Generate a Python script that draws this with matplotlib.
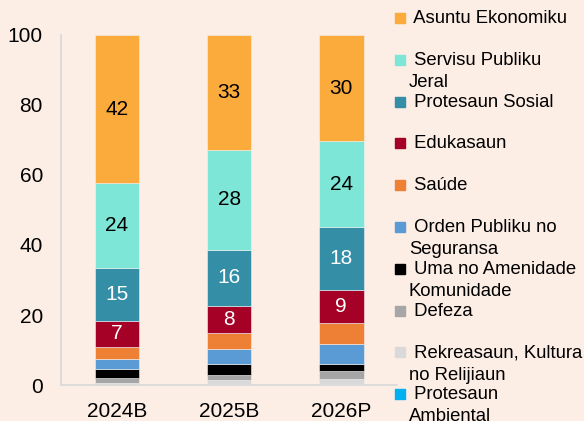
import numpy as np
import matplotlib.pyplot as plt
from matplotlib.patches import Rectangle

plt.rcParams['font.family'] = ['Liberation Sans', 'DejaVu Sans']

# Despeza tuir funsaun (% husi total)
anos = ["2024B", "2025B", "2026P"]
kategoria = ["Asuntu Ekonomiku", "Servisu Publiku\nJeral", "Protesaun Sosial",
             "Edukasaun", "Saúde", "Orden Publiku no\nSeguransa",
             "Uma no Amenidade\nKomunidade", "Defeza",
             "Rekreasaun, Kultura\nno Relijiaun", "Protesaun\nAmbiental"]
asuntu_ekonomiku = [42.3, 32.9, 30.4]
servisu_publiku = [24.4, 28.4, 24.4]
protesaun_sosial = [15.0, 16.2, 18.1]
edukasaun = [7.4, 7.7, 9.4]
saude = [3.6, 4.6, 6.1]
orden_publiku = [2.7, 4.3, 5.5]
uma_amenidade = [2.5, 3.1, 2.1]
defeza = [1.5, 1.4, 2.3]
rekreasaun = [0.5, 1.2, 1.3]
ambiental = [0.1, 0.2, 0.4]

series = [asuntu_ekonomiku, servisu_publiku, protesaun_sosial, edukasaun, saude,
          orden_publiku, uma_amenidade, defeza, rekreasaun, ambiental]
kores = ["#FBAA3C", "#7DE6D6", "#338EA6", "#A50026", "#EE8036",
         "#5B9BD5", "#000000", "#A6A6A6", "#D9D9D9", "#00B0F0"]
kor_label = ["black", "black", "white", "white", None, None, None, None, None, None]

bg = "#FCEDE5"
fig = plt.figure(figsize=(5.84, 4.21), dpi=100, facecolor=bg)
ax = fig.add_axes([0.1045, 0.0855, 0.5755, 0.8314], facecolor=bg)

x = np.arange(len(anos))
bottom = np.zeros(len(anos))
# stack from the bottom category upwards
for i in reversed(range(len(series))):
    vals = np.array(series[i])
    ax.bar(x, vals, 0.4, bottom=bottom, color=kores[i], edgecolor="#F2F2F2", linewidth=0.4)
    if kor_label[i]:
        for xi, v, b in zip(x, vals, bottom):
            ax.text(xi, b + v / 2, f"{v:.0f}", ha="center", va="center",
                    fontsize=15, color=kor_label[i])
    bottom += vals

ax.set_xlim(-0.5, 2.5)
ax.set_ylim(0, 100)
ax.set_yticks(range(0, 101, 20))
ax.set_xticks(x)
ax.set_xticklabels(anos)
ax.tick_params(axis="both", length=0, labelsize=15)
ax.tick_params(axis="y", pad=13)
ax.tick_params(axis="x", pad=12)
for s in ["top", "right"]:
    ax.spines[s].set_visible(False)
for s in ["left", "bottom"]:
    ax.spines[s].set_color("#D9D9D9")
    ax.spines[s].set_linewidth(1.2)

# legend drawn by hand, one entry every 41.8 px
W, H = 584, 421
for i, (nm, kor) in enumerate(zip(kategoria, kores)):
    yc = 18 + i * 41.8
    fig.patches.append(Rectangle((395 / W, 1 - (yc + 5) / H), 10 / W, 10 / H,
                                 transform=fig.transFigure, color=kor, figure=fig))
    fig.text(409 / W, 1 - (yc - 8) / H, " " + nm, ha="left", va="top",
             fontsize=13.3, linespacing=1.4)

fig.savefig("out.png", dpi=100, facecolor=bg)
